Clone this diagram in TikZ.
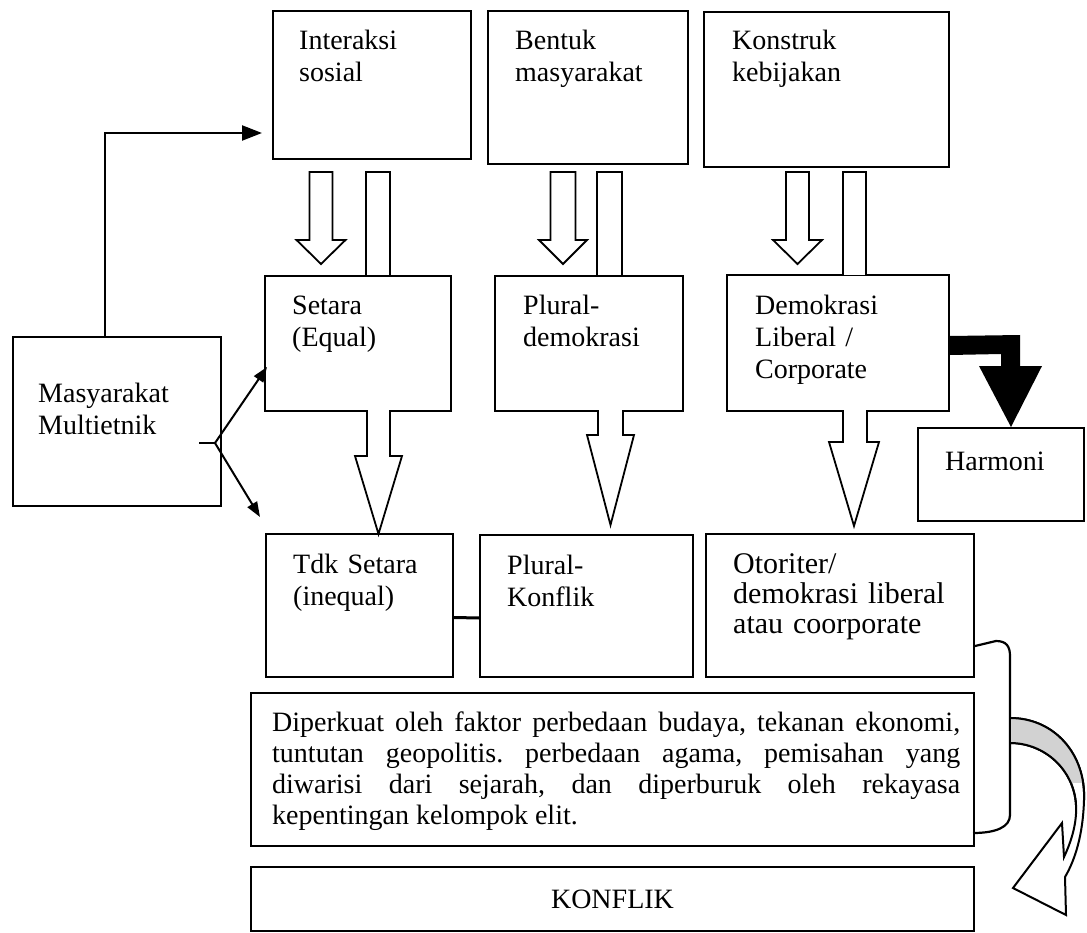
\documentclass[tikz,border=0pt]{standalone}
\usepackage{fontspec}
\setmainfont{Liberation Serif}
\usepackage{tikz}
\usetikzlibrary{arrows.meta, positioning, calc}
\definecolor{curlgray}{HTML}{D2D2D2}
\newcommand{\lbl}{\fontsize{28}{32}\selectfont}
\newcommand{\otfont}{\fontsize{30}{30}\selectfont}
\newcommand{\dpfont}{\fontsize{28}{31}\selectfont}
\frenchspacing

\begin{document}
\begin{tikzpicture}[
    x=1pt, y=-1pt,
    box/.style={draw, line width=2pt, anchor=north west, inner sep=0pt},
    txt/.style={anchor=base west, align=left, text width=250pt, inner sep=0pt, font=\lbl},
    hollow/.style={draw, fill=white, line width=1.8pt, line join=miter},
    arr/.style={-{Triangle[length=20pt, width=15pt]}, line width=2.2pt},
    forkarr/.style={-{Triangle[length=15pt, width=11pt]}, line width=2pt},
    link/.style={line width=3pt},
    ribbon/.style={line width=2.2pt},
  ]
  \useasboundingbox (0,0) rectangle (1087,933);

  % top row
  \node[box, minimum width=198pt, minimum height=148pt] (inter) at (272,10) {};
  \node[box, minimum width=200pt, minimum height=153pt] (bentuk) at (487,10) {};
  \node[box, minimum width=245pt, minimum height=155pt] (konstruk) at (703,11) {};
  \node[txt] (interT) at ($(inter.north west)+(27,40)$) {Interaksi\\sosial};
  \node[txt] (bentukT) at ($(bentuk.north west)+(28,40)$) {Bentuk\\masyarakat};
  \node[txt] (konstrukT) at ($(konstruk.north west)+(29,39)$) {Konstruk\\kebijakan};

  % middle row
  \node[box, minimum width=208pt, minimum height=169pt] (masy) at (12,336) {};
  \node[txt] (masyT) at ($(masy.north west)+(26,66)$) {Masyarakat\\Multietnik};
  \node[box, minimum width=186pt, minimum height=135pt] (setara) at (264,275) {};
  \node[box, minimum width=188pt, minimum height=135pt] (pdem) at (494,275) {};
  \node[box, minimum width=222pt, minimum height=136pt] (demo) at (726,274) {};
  \node[txt] (setaraT) at ($(setara.north west)+(28,40)$) {Setara\\(Equal)};
  \node[txt] (pdemT) at ($(pdem.north west)+(29,40)$) {Plural-\\demokrasi};
  \node[txt] (demoT) at ($(demo.north west)+(29,41)$) {Demokrasi\\Liberal /\\Corporate};
  \node[box, minimum width=166pt, minimum height=93pt] (harmoni) at (917,427) {};
  \node[txt] (harmoniT) at ($(harmoni.north west)+(28,43)$) {Harmoni};

  % bottom row
  \node[box, minimum width=187pt, minimum height=143pt] (tdk) at (265,533) {};
  \node[box, minimum width=213pt, minimum height=142pt] (pkon) at (479,534) {};
  \node[box, minimum width=268pt, minimum height=143pt] (otor) at (705,533) {};
  \node[txt] (tdkT) at ($(tdk.north west)+(28,40)$) {Tdk Setara\\(inequal)};
  \node[txt] (pkonT) at ($(pkon.north west)+(28,40)$) {Plural-\\Konflik};
  \node[txt, font=\otfont] (otorT) at ($(otor.north west)+(28,40)$) {Otoriter/\\demokrasi liberal\\atau coorporate};

  % ribbon behind the text box
  \draw[ribbon] ($(otor.south east)+(0,-32)$) -- (996,641)
    .. controls (1006,641) and (1010,646) .. (1010,656) -- (1010,815)
    .. controls (1010,827) and (996,833) .. (973,833);

  \node[box, minimum width=723pt, minimum height=153pt] (diper) at (250,692) {};
  \node[txt, text width=688pt, align=justify, font=\dpfont] (diperT) at ($(diper.north west)+(22,39)$)
    {Diperkuat oleh faktor perbedaan budaya, tekanan ekonomi,\linebreak
     tuntutan geopolitis. perbedaan agama, pemisahan yang\linebreak
     diwarisi dari sejarah, dan diperburuk oleh rekayasa\linebreak
     kepentingan kelompok elit.};
  \node[box, minimum width=723pt, minimum height=64pt, font=\lbl] (konflik) at (250,866) {KONFLIK};

  % hollow arrows under the top row
  \foreach \xc/\sw/\hw in {321/11.5/24.5, 563/12.5/24, 797.5/11.5/24.5}
    \draw[hollow] (\xc-\sw,172) -- (\xc+\sw,172) -- (\xc+\sw,240) -- (\xc+\hw,240)
      -- (\xc,264) -- (\xc-\hw,240) -- (\xc-\sw,240) -- cycle;
  \foreach \xl/\xr in {366/390, 597/622, 843/866}
    \draw[hollow] (\xl,275) -- (\xl,172) -- (\xr,172) -- (\xr,275);

  % hollow arrows under the middle row
  \draw[hollow] (367,410) -- (367,456) -- (355,456) -- (378.5,534) -- (402,456) -- (390,456) -- (390,410);
  \draw[hollow] (598,410) -- (598,435) -- (587,435) -- (610.5,525) -- (634,435) -- (623,435) -- (623,410);
  \draw[hollow] (843,410) -- (843,442) -- (829,442) -- (854,526) -- (879,442) -- (867,442) -- (867,410);

  % thin connectors
  \draw[arr, shorten >=10pt] ($(masy.north west)+(93,0)$) |- ($(inter.south west)+(0,-27)$);
  \coordinate (fk) at ($(masy.east)+(-7,21.5)$);
  \draw[line width=2pt] ($(fk)+(-16,0)$) -- (fk);
  \draw[forkarr] (fk) -- ($(setara.north west)+(3,92)$);
  \draw[forkarr] (fk) -- ($(tdk.north west)+(-5,-16)$);
  \draw[link] ($(tdk.east)+(0,12)$) -- ($(pkon.west)+(0,12)$);

  % black bent arrow to Harmoni
  \fill ($(demo.east)+(0,-7)$) -- (1020,335) -- (1020,366) -- (1042,366)
    -- ($(harmoni.north)+(10,0)$) -- (979,366) -- (1001,366) -- (1001,354)
    -- ($(demo.east)+(0,12)$) -- cycle;

  % curled arrow to KONFLIK
  \draw[hollow, line width=2pt] (1010,718) .. controls (1055,718) and (1086,755) .. (1084,800)
    .. controls (1083,835) and (1075,860) .. (1065,877) -- (1066,915) -- (1013,888)
    -- (1062,823) -- (1064,857) .. controls (1072,840) and (1077,822) .. (1076,805)
    .. controls (1074,770) and (1045,743) .. (1010,743) -- cycle;
  \begin{scope}
    \clip (1011,700) rectangle (1090,782);
    \fill[curlgray] (1010,718) .. controls (1055,718) and (1086,755) .. (1084,800)
      -- (1076,805) .. controls (1074,770) and (1045,743) .. (1010,743) -- cycle;
  \end{scope}
  \draw[line width=2pt] (1010,718) .. controls (1055,718) and (1086,755) .. (1084,800);
  \draw[line width=2pt] (1076,805) .. controls (1074,770) and (1045,743) .. (1010,743);
\end{tikzpicture}
\end{document}
